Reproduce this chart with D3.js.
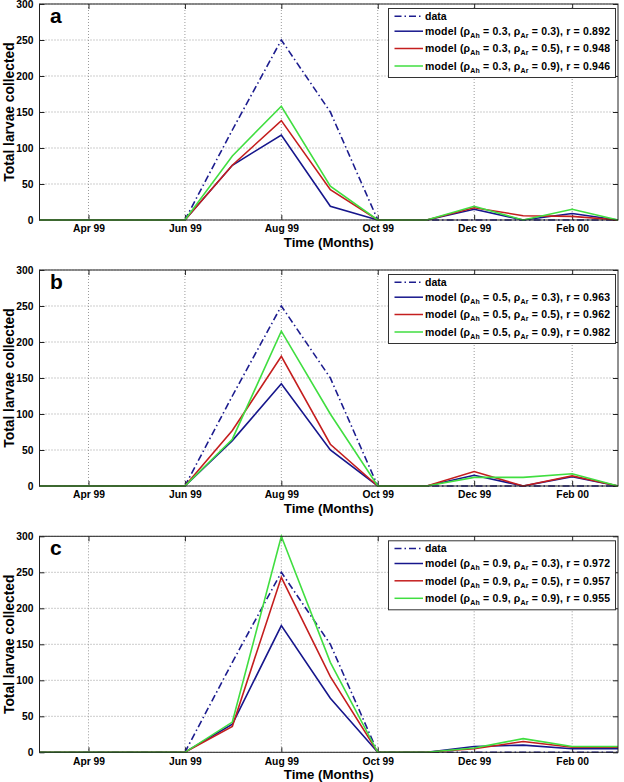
<!DOCTYPE html>
<html><head><meta charset="utf-8">
<script src="https://cdn.jsdelivr.net/npm/d3@7"></script>
<style>
body{margin:0;background:#fff}
svg{display:block}
text{font-family:Arial,"Liberation Sans",sans-serif;font-weight:bold;fill:#000}
</style>
</head><body>
<svg id="chart" width="624" height="782"></svg>
<script>
// ---------- data ----------
const monthDates = ["1999-03-01","1999-04-01","1999-05-01","1999-06-01","1999-07-01","1999-08-01","1999-09-01",
                    "1999-10-01","1999-11-01","1999-12-01","2000-01-01","2000-02-01","2000-03-01"];
const xTickDates = ["1999-04-01","1999-06-01","1999-08-01","1999-10-01","1999-12-01","2000-02-01"];
const xTickLabels = ["Apr 99","Jun 99","Aug 99","Oct 99","Dec 99","Feb 00"];
const yTicks = [0,50,100,150,200,250,300];
const observed = [0,0,0,0,125,250,150,0,0,0,0,0,0];

const panelLetters = ["a","b","c"];
const rhoAh = ["0.3","0.5","0.9"];
const rhoAr = ["0.3","0.5","0.9"];
const rPanelA = ["0.892","0.948","0.946"];
const rPanelB = ["0.963","0.962","0.982"];
const rPanelC = ["0.972","0.957","0.955"];

const panelA_Ar03 = [0,0,0,0,76,118,19,0,0,15,0,9,0];
const panelA_Ar05 = [0,0,0,0,76,138,42,0,0,17,6,5,0];
const panelA_Ar09 = [0,0,0,0,89,158,47,0,0,19,0,15,0];

const panelB_Ar03 = [0,0,0,0,63,142,50,0,0,15,0,13,0];
const panelB_Ar05 = [0,0,0,0,77,180,58,0,0,20,0,14,0];
const panelB_Ar09 = [0,0,0,0,65,215,100,0,0,12,12,17,0];

const panelC_Ar03 = [0,0,0,0,39,176,75,0,0,8,10,5,5];
const panelC_Ar05 = [0,0,0,0,36,243,105,0,0,5,15,7,7];
const panelC_Ar09 = [0,0,0,0,42,300,125,0,0,6,19,8,8];

// ---------- build ----------
const parse = d3.utcParse("%Y-%m-%d");
const dates = monthDates.map(parse);
const panels = [
  {letter: panelLetters[0], rh: rhoAh[0], r: rPanelA, models: [panelA_Ar03, panelA_Ar05, panelA_Ar09]},
  {letter: panelLetters[1], rh: rhoAh[1], r: rPanelB, models: [panelB_Ar03, panelB_Ar05, panelB_Ar09]},
  {letter: panelLetters[2], rh: rhoAh[2], r: rPanelC, models: [panelC_Ar03, panelC_Ar05, panelC_Ar09]}
];
const modelColors = ["#16168c","#c41e1e","#40de40"];
const dataColor = "#1c1c8e";

const svg = d3.select("#chart");
const left = 39.5, right = 618, h = 216, tops = [4, 270, 536.3];

const x = d3.scaleUtc().domain([dates[0], dates[dates.length-1]]).range([left, right]);

panels.forEach((p, i) => {
  const top = tops[i], bottom = top + h;
  const y = d3.scaleLinear().domain([0, 300]).range([bottom, top]);
  const g = svg.append("g");

  // grid
  g.append("g").selectAll("line").data(xTickDates.map(parse)).join("line")
    .attr("x1", d => x(d)).attr("x2", d => x(d)).attr("y1", top).attr("y2", bottom)
    .attr("stroke", "#9a9a9a").attr("stroke-width", 1).attr("stroke-dasharray", "1,2");
  g.append("g").selectAll("line").data(yTicks).join("line")
    .attr("x1", left).attr("x2", right).attr("y1", d => y(d)).attr("y2", d => y(d))
    .attr("stroke", "#9a9a9a").attr("stroke-width", 1).attr("stroke-dasharray", "1,2");

  // axes
  const tickVals = xTickDates.map(parse);
  g.append("g").attr("transform", `translate(0,${bottom})`)
    .call(d3.axisBottom(x).tickValues(tickVals).tickFormat((d, k) => xTickLabels[k]).tickSize(-5).tickPadding(5));
  g.append("g").attr("transform", `translate(0,${top})`)
    .call(d3.axisTop(x).tickValues(tickVals).tickFormat("").tickSize(-5));
  g.append("g").attr("transform", `translate(${left},0)`)
    .call(d3.axisLeft(y).tickValues(yTicks).tickSize(-5).tickPadding(6));
  g.append("g").attr("transform", `translate(${right},0)`)
    .call(d3.axisRight(y).tickValues(yTicks).tickFormat("").tickSize(-5));
  g.selectAll(".domain").remove();
  g.selectAll(".tick line").attr("stroke", "#222");
  g.selectAll(".tick text").attr("font-size", 10.3).attr("font-family", "Arial, 'Liberation Sans', sans-serif").attr("font-weight", "bold").attr("fill", "#000");

  // lines
  const line = d3.line().x((d, k) => x(dates[k])).y(d => y(d));
  g.append("path").datum(observed).attr("d", line).attr("fill", "none")
    .attr("stroke", dataColor).attr("stroke-width", 1.6).attr("stroke-dasharray", "7,3,1.5,3");
  p.models.forEach((m, k) => {
    g.append("path").datum(m).attr("d", line).attr("fill", "none")
      .attr("stroke", modelColors[k]).attr("stroke-width", 1.6).attr("stroke-linejoin", "miter");
  });

  // frame
  g.append("rect").attr("x", left).attr("y", top).attr("width", right - left).attr("height", h)
    .attr("fill", "none").attr("stroke", "#222").attr("stroke-width", 1);

  // panel letter
  g.append("text").attr("x", 50).attr("y", top + 19).attr("font-size", 21).text(p.letter);

  // y label
  g.append("text").attr("transform", `translate(14,${(top + bottom) / 2}) rotate(-90)`)
    .attr("text-anchor", "middle").attr("font-size", 13.8).text("Total larvae collected");

  // x label
  g.append("text").attr("x", (left + right) / 2).attr("y", bottom + 27)
    .attr("text-anchor", "middle").attr("font-size", 13.2).text("Time (Months)");

  // legend
  const lx = 388.5, lw = 227, ly = top + 4.5, lh = 69;
  const lg = g.append("g");
  lg.append("rect").attr("x", lx).attr("y", ly).attr("width", lw).attr("height", lh)
    .attr("fill", "#fff").attr("stroke", "#333").attr("stroke-width", 1);
  const rows = [7.7, 22.7, 40, 57.5];
  const entries = [{color: dataColor, dash: "7,3,1.5,3"}].concat(modelColors.map(c => ({color: c, dash: null})));
  entries.forEach((e, k) => {
    const ry = ly + rows[k];
    lg.append("line").attr("x1", 394.5).attr("x2", 423).attr("y1", ry).attr("y2", ry)
      .attr("stroke", e.color).attr("stroke-width", 1.5).attr("stroke-dasharray", e.dash);
    const t = lg.append("text").attr("x", 425).attr("y", ry + 3.8).attr("font-size", 10.5);
    if (k === 0) {
      t.text("data");
    } else {
      t.attr("textLength", 185).attr("lengthAdjust", "spacing");
      t.append("tspan").text("model (\u03c1");
      t.append("tspan").attr("font-size", 7).attr("dy", 3).text("Ah");
      t.append("tspan").attr("dy", -3).text(` = ${p.rh}, \u03c1`);
      t.append("tspan").attr("font-size", 7).attr("dy", 3).text("Ar");
      t.append("tspan").attr("dy", -3).text(` = ${rhoAr[k-1]}), r = ${p.r[k-1]}`);
    }
  });
});
</script>
</body></html>
